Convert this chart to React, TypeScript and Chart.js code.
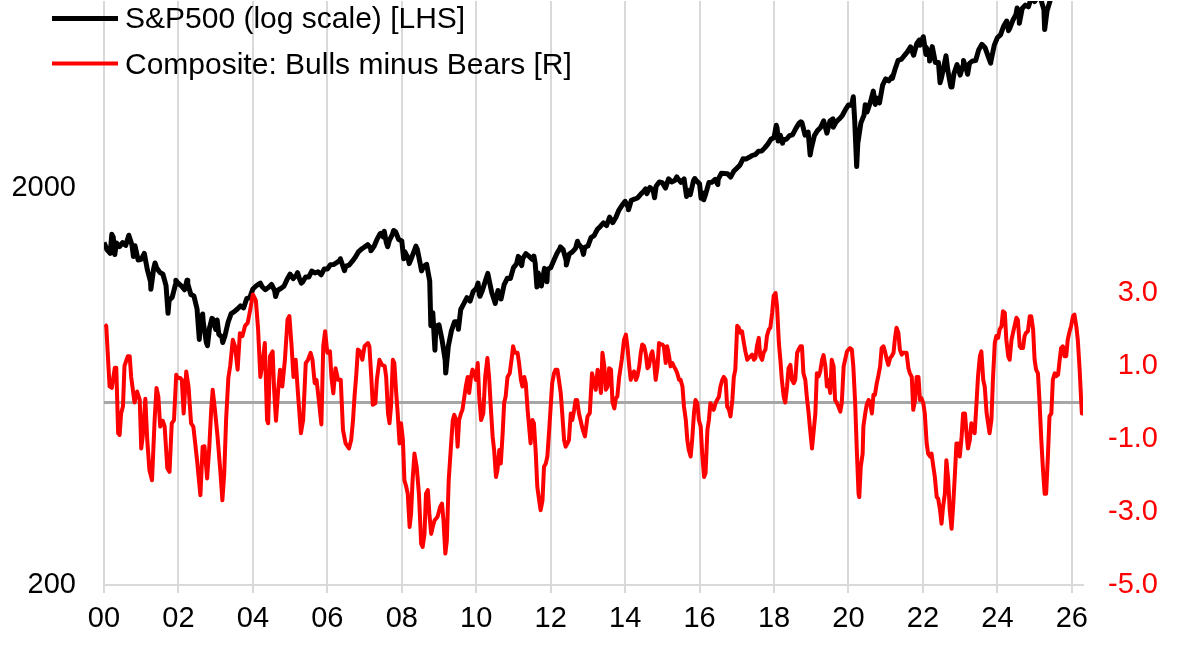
import React, { useEffect, useRef } from "react";
import { Chart, registerables } from "chart.js";

Chart.register(...registerables);

// ---------- axes ----------
const X_MIN = 2000;
const X_MAX = 2026.3;
const xTickYears = [2000, 2002, 2004, 2006, 2008, 2010, 2012, 2014, 2016, 2018, 2020, 2022, 2024, 2026];
const leftMin = 200;
const leftMax = 5900;
const leftTickValues = [200, 2000];
const rightMin = -5;
const rightMax = 11;
const rightTickValues = [-5, -3, -1, 1, 3];

// ---------- S&P 500 (month-end closes, Jan 2000 onwards) ----------
const spxStart: [number, number] = [2000.0, 1455];
const spxMonthEnd = [
  1394, 1366, 1499, 1452, 1421, 1455, 1431, 1518, 1437, 1429, 1315, 1320, // 2000
  1366, 1240, 1160, 1249, 1256, 1224, 1211, 1134, 1041, 1060, 1139, 1148, // 2001
  1130, 1107, 1147, 1077, 1067, 990, 912, 916, 815, 886, 936, 880, // 2002
  856, 841, 848, 917, 964, 975, 990, 1008, 996, 1051, 1058, 1112, // 2003
  1131, 1145, 1126, 1107, 1121, 1141, 1102, 1104, 1115, 1130, 1174, 1212, // 2004
  1181, 1204, 1181, 1157, 1192, 1191, 1234, 1220, 1229, 1207, 1249, 1248, // 2005
  1280, 1281, 1295, 1311, 1270, 1270, 1277, 1304, 1336, 1378, 1401, 1418, // 2006
  1438, 1407, 1421, 1482, 1531, 1503, 1455, 1474, 1527, 1549, 1481, 1468, // 2007
  1379, 1331, 1323, 1386, 1400, 1280, 1267, 1283, 1165, 969, 896, 903, // 2008
  826, 735, 798, 873, 919, 919, 987, 1021, 1057, 1036, 1096, 1115, // 2009
  1074, 1104, 1169, 1187, 1089, 1031, 1102, 1049, 1141, 1183, 1181, 1258, // 2010
  1286, 1327, 1326, 1364, 1345, 1321, 1292, 1219, 1131, 1253, 1247, 1258, // 2011
  1312, 1366, 1408, 1398, 1310, 1362, 1379, 1407, 1441, 1412, 1416, 1426, // 2012
  1498, 1515, 1569, 1598, 1631, 1606, 1686, 1633, 1682, 1757, 1806, 1848, // 2013
  1783, 1859, 1872, 1884, 1924, 1960, 1931, 2003, 1972, 2018, 2068, 2059, // 2014
  1995, 2105, 2068, 2086, 2107, 2063, 2104, 1972, 1920, 2079, 2080, 2044, // 2015
  1940, 1932, 2060, 2065, 2097, 2099, 2174, 2171, 2168, 2126, 2199, 2239, // 2016
  2279, 2364, 2363, 2384, 2412, 2423, 2470, 2472, 2519, 2575, 2648, 2674, // 2017
  2824, 2714, 2641, 2648, 2705, 2718, 2816, 2902, 2914, 2711, 2760, 2507, // 2018
  2704, 2784, 2834, 2946, 2752, 2942, 2980, 2926, 2977, 3038, 3141, 3231, // 2019
  3226, 2954, 2585, 2912, 3044, 3100, 3271, 3500, 3363, 3270, 3622, 3756, // 2020
  3714, 3811, 3973, 4181, 4204, 4298, 4395, 4523, 4308, 4605, 4567, 4766, // 2021
  4516, 4374, 4530, 4132, 4132, 3785, 4130, 3955, 3586, 3872, 4080, 3840, // 2022
  4077, 3970, 4109, 4169, 4180, 4450, 4589, 4508, 4288, 4194, 4568, 4770, // 2023
  4846, 5096, 5254, 5036, 5278, 5460, 5522, 5648, 5762, 5705, 6032, 5882, // 2024
  6041, 5955, 5612, 5569, 5912, 6205, 6339, 6460, 6688, 6840, 6849, 6845, // 2025
  6939, 6879, 6500, // 2026
];
// intra-month highs / lows (year fraction, level)
const spxSwings: [number, number][] = [
  [2000.21, 1527], [2000.29, 1357], [2000.79, 1342], [2001.26, 1110], [2001.37, 1293],
  [2001.72, 966], [2001.93, 1170], [2002.23, 1170], [2002.56, 830], [2002.65, 962],
  [2002.78, 800], [2002.9, 938], [2003.04, 929], [2003.19, 815], [2004.2, 1150],
  [2004.61, 1064], [2005.2, 1222], [2005.30, 1150], [2006.35, 1325], [2006.46, 1236],
  [2007.17, 1387], [2007.44, 1536], [2007.53, 1553], [2007.62, 1420], [2007.78, 1561],
  [2008.05, 1325], [2008.20, 1288], [2008.38, 1425], [2008.53, 1235], [2008.78, 899],
  [2008.89, 780], [2009.18, 683], [2009.52, 880], [2010.05, 1150], [2010.10, 1066],
  [2010.31, 1217], [2010.51, 1022], [2011.13, 1343], [2011.22, 1273], [2011.55, 1345],
  [2011.63, 1124], [2011.76, 1131], [2011.90, 1159], [2012.26, 1419], [2012.42, 1278],
  [2012.72, 1466], [2012.88, 1359], [2014.09, 1760], [2014.55, 1985], [2014.79, 1887],
  [2015.39, 2130], [2015.65, 1900], [2015.87, 2109], [2016.04, 1880], [2016.11, 1864],
  [2016.49, 2037], [2018.06, 2873], [2018.11, 2620], [2018.23, 2588], [2018.72, 2930],
  [2018.97, 2417], [2019.42, 2744], [2019.59, 2840], [2020.13, 3386], [2020.22, 2260],
  [2020.45, 3232], [2020.72, 3240], [2021.18, 3768], [2021.9, 4705], [2022.01, 4797],
  [2022.08, 4327], [2022.18, 4170], [2022.46, 3675], [2022.62, 4297], [2022.78, 3583],
  [2023.09, 4180], [2023.20, 3860], [2023.82, 4117], [2024.30, 4967], [2024.53, 5667],
  [2024.59, 5186], [2025.13, 6144], [2025.27, 5000],
];

// ---------- Composite: Bulls minus Bears (year fraction, z-score) ----------
const bullsBears2000s: [number, number][] = [
  [2000.02, 2.14], [2000.06, 2.1], [2000.15, 0.44], [2000.21, 0.4], [2000.29, 0.95], [2000.33, 0.95],
  [2000.38, -0.84], [2000.42, -0.89], [2000.46, -0.3], [2000.51, -0.1], [2000.55, 1.0], [2000.64, 1.27],
  [2000.69, 1.27], [2000.73, 0.7], [2000.82, 0.0], [2000.89, 0.3], [2000.96, 0.07], [2001.0, -1.26],
  [2001.04, -0.93], [2001.11, 0.1], [2001.16, -1.0], [2001.22, -1.85], [2001.29, -2.13], [2001.36, -0.48],
  [2001.41, 0.4], [2001.46, 0.16], [2001.51, -0.66], [2001.58, -0.5], [2001.63, -0.66], [2001.7, -1.8],
  [2001.76, -1.9], [2001.82, -0.57], [2001.88, -0.48], [2001.94, 0.76], [2001.98, 0.67], [2002.05, 0.67],
  [2002.09, 0.62], [2002.14, -0.3], [2002.21, 0.85], [2002.27, 0.44], [2002.34, -0.57], [2002.4, -0.66],
  [2002.43, -0.93], [2002.5, -1.58], [2002.59, -2.54], [2002.65, -1.21], [2002.7, -1.2], [2002.77, -2.08],
  [2002.83, -1.2], [2002.88, -0.2], [2002.92, 0.35], [2002.98, -0.2], [2003.05, -0.93], [2003.13, -1.94],
  [2003.18, -2.68], [2003.23, -1.94], [2003.28, -0.48], [2003.34, 0.67], [2003.39, 1.0], [2003.46, 1.72],
  [2003.52, 1.54], [2003.59, 0.9], [2003.65, 1.9], [2003.72, 1.82], [2003.79, 2.1], [2003.86, 2.18],
  [2003.93, 2.55], [2004.0, 2.96], [2004.08, 2.8], [2004.14, 2.0], [2004.2, 0.7], [2004.26, 1.07],
  [2004.32, 1.63], [2004.38, -0.48], [2004.41, -0.57], [2004.46, 1.27], [2004.53, 1.4], [2004.57, 0.35],
  [2004.62, -0.5], [2004.68, 0.35], [2004.73, 0.9], [2004.79, 0.44], [2004.86, 1.17], [2004.93, 2.27],
  [2004.98, 2.37], [2005.04, 1.54], [2005.09, 0.7], [2005.15, 1.17], [2005.21, 0.26], [2005.29, -0.84],
  [2005.35, -0.48], [2005.42, 1.08], [2005.48, 1.17], [2005.55, 1.36], [2005.6, 1.17], [2005.66, 0.53],
  [2005.71, 0.62], [2005.78, -0.02], [2005.84, -0.6], [2005.89, 1.54], [2005.94, 1.95], [2006.0, 1.36],
  [2006.07, 1.4], [2006.11, 0.7], [2006.16, 0.25], [2006.22, 0.94], [2006.29, 0.62], [2006.36, 0.62],
];
const bullsBears2006s: [number, number][] = [
  [2006.42, -0.75], [2006.49, -1.12], [2006.58, -1.26], [2006.64, -1.03], [2006.69, -0.48], [2006.73, 0.16],
  [2006.78, 0.8], [2006.82, 1.45], [2006.88, 1.4], [2006.94, 1.17], [2007.0, 1.54], [2007.09, 1.63],
  [2007.13, 1.54], [2007.18, 0.7], [2007.22, -0.06], [2007.29, -0.02], [2007.33, 0.62], [2007.4, 1.17],
  [2007.47, 1.03], [2007.54, 1.0], [2007.58, 0.7], [2007.63, -0.3], [2007.67, -0.57], [2007.71, -0.11],
  [2007.76, 1.17], [2007.8, 1.08], [2007.85, 0.26], [2007.89, -0.3], [2007.94, -1.12], [2007.98, -0.57],
  [2008.03, -1.03], [2008.07, -2.13], [2008.12, -2.31], [2008.16, -2.5], [2008.21, -3.41], [2008.25, -3.04],
  [2008.29, -2.13], [2008.34, -1.4], [2008.4, -1.76], [2008.46, -2.5], [2008.52, -3.87], [2008.56, -3.96],
  [2008.61, -3.6], [2008.65, -2.5], [2008.7, -2.4], [2008.74, -3.04], [2008.79, -3.6], [2008.83, -3.41],
  [2008.88, -3.23], [2008.96, -3.13], [2009.03, -2.86], [2009.08, -2.77], [2009.12, -3.23], [2009.17, -4.14],
  [2009.21, -3.78], [2009.26, -2.13], [2009.32, -1.21], [2009.37, -0.48], [2009.41, -0.34], [2009.46, -0.48],
  [2009.5, -1.21], [2009.54, -0.48], [2009.59, -0.3], [2009.63, -0.2], [2009.72, 0.44], [2009.77, 0.7],
  [2009.81, 0.26], [2009.86, 0.7], [2009.9, 0.9], [2009.95, 0.8], [2009.99, 0.62], [2010.04, 1.08],
  [2010.08, 0.16], [2010.13, -0.48], [2010.19, -0.3], [2010.24, 0.7], [2010.3, 1.22], [2010.35, 0.62],
  [2010.39, -0.11], [2010.44, -0.93], [2010.48, -1.3], [2010.53, -2.04], [2010.57, -1.85], [2010.62, -1.3],
  [2010.66, -1.67], [2010.71, -0.84], [2010.75, 0.0], [2010.79, 0.16], [2010.84, 0.7], [2010.9, 0.8],
  [2010.96, 1.27], [2010.99, 1.54], [2011.04, 1.36], [2011.11, 1.36], [2011.15, 1.08], [2011.2, 0.62],
  [2011.24, 0.44], [2011.29, 0.7], [2011.33, 0.53], [2011.38, -0.2], [2011.42, -0.66], [2011.46, -1.12],
  [2011.51, -0.48], [2011.55, -0.57], [2011.6, -1.4], [2011.64, -2.31], [2011.69, -2.68], [2011.73, -2.95],
  [2011.78, -2.68], [2011.82, -1.76], [2011.87, -1.67], [2011.91, -1.48], [2011.96, -0.75], [2012.0, -0.11],
  [2012.04, 0.53], [2012.09, 0.8], [2012.13, 0.9], [2012.18, 0.9], [2012.22, 0.62], [2012.27, 0.26],
  [2012.31, -0.3], [2012.36, -1.03], [2012.4, -1.21], [2012.45, -1.12], [2012.49, -1.03], [2012.54, -0.3],
  [2012.58, -0.48], [2012.63, -0.2], [2012.67, 0.07], [2012.71, 0.07], [2012.76, -0.3], [2012.85, -0.7],
  [2012.92, -0.93],
];
const bullsBears2013s: [number, number][] = [
  [2012.99, -0.38], [2013.05, -0.29], [2013.11, 0.8], [2013.17, 0.53], [2013.21, 0.35], [2013.26, 0.9],
  [2013.3, 0.72], [2013.35, 0.26], [2013.39, 1.36], [2013.44, 1.0], [2013.48, 0.35], [2013.53, 0.44],
  [2013.57, 0.94], [2013.62, 0.9], [2013.66, 0.0], [2013.71, -0.16], [2013.75, 0.12], [2013.79, 0.16],
  [2013.84, 0.7], [2013.91, 1.17], [2013.97, 1.72], [2014.02, 1.86], [2014.06, 1.54], [2014.11, 0.99],
  [2014.15, 0.62], [2014.2, 0.8], [2014.24, 0.85], [2014.29, 0.62], [2014.33, 0.72], [2014.38, 0.99],
  [2014.42, 1.36], [2014.46, 1.59], [2014.51, 1.54], [2014.55, 1.36], [2014.6, 0.94], [2014.64, 0.99],
  [2014.69, 1.3], [2014.73, 1.4], [2014.78, 1.08], [2014.82, 0.62], [2014.87, 0.99], [2014.91, 1.63],
  [2014.96, 1.59], [2015.0, 1.59], [2015.04, 1.54], [2015.09, 1.08], [2015.13, 1.54], [2015.18, 1.27],
  [2015.22, 0.99], [2015.27, 1.08], [2015.31, 0.99], [2015.36, 0.9], [2015.4, 0.8], [2015.45, 0.62],
  [2015.49, 0.62], [2015.54, 0.44], [2015.58, -0.11], [2015.63, -0.48], [2015.67, -1.03], [2015.71, -1.3],
  [2015.76, -1.48], [2015.8, -1.03], [2015.85, -0.29], [2015.89, 0.07], [2015.94, -0.02], [2015.98, -0.48],
  [2016.03, -0.66], [2016.07, -1.4], [2016.12, -2.04], [2016.16, -1.94], [2016.21, -0.75], [2016.25, -0.48],
  [2016.29, -0.02], [2016.34, -0.11], [2016.38, -0.2], [2016.43, -0.02], [2016.47, 0.07], [2016.52, 0.16],
  [2016.56, 0.44], [2016.61, 0.62], [2016.65, 0.7], [2016.7, 0.62], [2016.74, -0.11], [2016.79, -0.2],
  [2016.83, -0.38], [2016.88, 0.07], [2016.92, 0.7], [2016.96, 0.9], [2017.01, 2.1], [2017.05, 2.06],
  [2017.1, 1.91], [2017.14, 1.95], [2017.19, 1.63], [2017.23, 1.4], [2017.28, 1.17], [2017.32, 1.22],
  [2017.37, 1.27], [2017.41, 1.31], [2017.46, 1.17], [2017.5, 1.22], [2017.54, 1.54], [2017.59, 1.77],
  [2017.63, 1.27], [2017.68, 1.17], [2017.72, 1.36], [2017.77, 1.45], [2017.81, 1.82], [2017.86, 2.0],
  [2017.9, 2.05], [2017.95, 2.46], [2017.99, 2.92], [2018.04, 3.0], [2018.08, 2.64], [2018.13, 1.63],
  [2018.17, 1.17], [2018.21, 0.62], [2018.26, 0.16], [2018.3, 0.0], [2018.35, 0.44], [2018.39, 0.94],
  [2018.44, 1.03], [2018.48, 0.62], [2018.53, 0.53], [2018.57, 0.62], [2018.62, 1.36], [2018.66, 1.45],
  [2018.71, 1.54], [2018.75, 1.54], [2018.79, 0.8], [2018.84, 0.62], [2018.88, 0.16], [2018.93, -0.3],
  [2018.97, -0.75], [2019.02, -1.26], [2019.06, -0.84], [2019.11, -0.3], [2019.15, 0.8], [2019.2, 0.72],
  [2019.24, 0.85], [2019.29, 1.17], [2019.33, 1.3], [2019.38, 0.99], [2019.42, 0.44], [2019.46, 0.62],
];
const bullsBears2019s: [number, number][] = [
  [2019.51, 0.26], [2019.55, 1.17], [2019.6, 0.99], [2019.64, 0.07], [2019.69, -0.02], [2019.73, -0.11],
  [2019.78, -0.25], [2019.82, -0.02], [2019.87, 0.99], [2019.91, 1.17], [2019.96, 1.4], [2020.0, 1.45],
  [2020.04, 1.49], [2020.09, 1.45], [2020.13, 0.99], [2020.18, -0.02], [2020.22, -1.21], [2020.27, -2.5],
  [2020.29, -2.59], [2020.33, -1.76], [2020.38, -1.4], [2020.4, -0.66], [2020.45, -0.3], [2020.49, -0.06],
  [2020.54, 0.07], [2020.58, -0.02], [2020.63, -0.3], [2020.67, 0.21], [2020.71, 0.21], [2020.76, 0.53],
  [2020.8, 0.72], [2020.85, 0.99], [2020.89, 1.49], [2020.94, 1.54], [2020.98, 1.4], [2021.03, 1.17],
  [2021.07, 1.03], [2021.12, 1.22], [2021.16, 1.27], [2021.21, 1.36], [2021.25, 1.77], [2021.29, 2.05],
  [2021.34, 1.91], [2021.38, 1.45], [2021.43, 1.31], [2021.47, 1.36], [2021.52, 1.36], [2021.56, 1.36],
  [2021.61, 0.94], [2021.65, 0.8], [2021.7, 0.7], [2021.74, -0.2], [2021.79, 0.07], [2021.83, 0.7],
  [2021.88, 0.7], [2021.92, 0.07], [2021.96, 0.12], [2022.01, -0.02], [2022.05, -0.3], [2022.1, -1.12],
  [2022.14, -1.4], [2022.19, -1.48], [2022.23, -1.4], [2022.28, -1.76], [2022.32, -2.04], [2022.37, -2.59],
  [2022.41, -2.64], [2022.46, -2.95], [2022.5, -3.32], [2022.54, -2.86], [2022.59, -2.5], [2022.63, -1.58],
  [2022.68, -2.13], [2022.72, -2.95], [2022.77, -3.46], [2022.81, -2.86], [2022.86, -1.94], [2022.9, -1.12],
  [2022.95, -1.12], [2022.99, -1.48], [2023.04, -0.93], [2023.08, -0.3], [2023.13, -0.3], [2023.17, -0.84],
  [2023.21, -1.26], [2023.26, -1.03], [2023.3, -0.57], [2023.35, -0.75], [2023.39, -0.84], [2023.44, 0.0],
  [2023.48, 0.72], [2023.53, 1.27], [2023.57, 1.4], [2023.62, 0.62], [2023.66, 0.44], [2023.71, -0.29],
  [2023.75, -0.57], [2023.79, -0.84], [2023.84, -0.48], [2023.88, 0.62], [2023.93, 1.63], [2023.97, 1.82],
  [2024.02, 1.77], [2024.06, 2.0], [2024.11, 2.09], [2024.15, 2.5], [2024.2, 2.46], [2024.24, 1.72],
  [2024.29, 1.27], [2024.33, 1.17], [2024.38, 1.72], [2024.42, 1.91], [2024.46, 2.09], [2024.51, 2.32],
  [2024.55, 2.27], [2024.6, 1.54], [2024.64, 1.49], [2024.69, 1.49], [2024.73, 1.82], [2024.77, 1.91],
  [2024.82, 1.95], [2024.87, 2.36], [2024.91, 2.36], [2024.96, 2.0], [2025.0, 1.17], [2025.04, 0.9],
  [2025.09, 0.8], [2025.13, 0.07], [2025.18, -1.03], [2025.22, -1.76], [2025.27, -2.5], [2025.31, -2.5],
  [2025.36, -1.4], [2025.4, -0.38], [2025.45, -0.3], [2025.49, 0.62], [2025.54, 0.8], [2025.58, 0.72],
  [2025.63, 0.76], [2025.67, 1.13], [2025.71, 1.49], [2025.76, 1.54], [2025.8, 1.27], [2025.85, 1.27],
  [2025.89, 1.72], [2025.94, 1.95], [2025.98, 2.09], [2026.03, 2.36], [2026.07, 2.41], [2026.12, 2.09],
  [2026.16, 1.72], [2026.21, 0.9], [2026.25, 0.07], [2026.27, -0.3],
];

const labelSpx = "S&P500 (log scale) [LHS]";
const labelComposite = "Composite: Bulls minus Bears [R]";

const FONT_FAMILY = '"Liberation Sans", Arial, Helvetica, sans-serif';
const TICK_FONT_SIZE = 29;
const LEGEND_FONT_SIZE = 30;

function buildSpxPoints() {
  const pts: { x: number; y: number }[] = [{ x: spxStart[0], y: spxStart[1] }];
  spxMonthEnd.forEach((v, i) => pts.push({ x: 2000 + (i + 1) / 12, y: v }));
  spxSwings.forEach(([x, y]) => pts.push({ x, y }));
  pts.sort((a, b) => a.x - b.x);
  return pts;
}

function buildSentimentPoints() {
  return [...bullsBears2000s, ...bullsBears2006s, ...bullsBears2013s, ...bullsBears2019s]
    .map(([x, y]) => ({ x, y }))
    .sort((a, b) => a.x - b.x);
}

const legendPlugin = {
  id: "stackedLegend",
  afterDraw(chart: any) {
    const ctx = chart.ctx as CanvasRenderingContext2D;
    const items = [
      { idx: 1, lineY: 18.5, baseY: 27.5 },
      { idx: 0, lineY: 63.5, baseY: 74 },
    ];
    ctx.save();
    items.forEach((it) => {
      const ds = chart.data.datasets[it.idx];
      ctx.strokeStyle = ds.borderColor;
      ctx.lineWidth = ds.borderWidth;
      ctx.lineCap = "butt";
      ctx.beginPath();
      ctx.moveTo(52, it.lineY);
      ctx.lineTo(118, it.lineY);
      ctx.stroke();
      ctx.fillStyle = "#000000";
      ctx.font = `${LEGEND_FONT_SIZE}px ${FONT_FAMILY}`;
      ctx.textAlign = "left";
      ctx.textBaseline = "alphabetic";
      ctx.fillText(ds.label, 125, it.baseY);
    });
    ctx.restore();
  },
};

export default function App() {
  const canvasRef = useRef<HTMLCanvasElement | null>(null);

  useEffect(() => {
    document.body.style.margin = "0";
    const canvas = canvasRef.current;
    if (!canvas) return;

    const chart = new Chart(canvas, {
      type: "line",
      data: {
        datasets: [
          {
            label: labelComposite,
            data: buildSentimentPoints(),
            yAxisID: "yR",
            borderColor: "#ff0000",
            borderWidth: 4,
            pointRadius: 0,
            tension: 0,
            borderJoinStyle: "round",
            order: 0,
          },
          {
            label: labelSpx,
            data: buildSpxPoints(),
            yAxisID: "yL",
            borderColor: "#000000",
            borderWidth: 5,
            pointRadius: 0,
            tension: 0,
            borderJoinStyle: "round",
            order: 1,
          },
          {
            label: "zero",
            data: [
              { x: X_MIN, y: 0 },
              { x: X_MAX, y: 0 },
            ],
            yAxisID: "yR",
            borderColor: "#a6a6a6",
            borderWidth: 3,
            pointRadius: 0,
            order: 2,
          },
        ],
      },
      options: {
        responsive: false,
        animation: false,
        events: [],
        layout: { padding: { top: 1, left: 0, right: 32, bottom: 0 } },
        plugins: {
          legend: { display: false },
          tooltip: { enabled: false },
        },
        scales: {
          x: {
            type: "linear",
            position: "bottom",
            min: X_MIN,
            max: X_MAX,
            afterBuildTicks: (scale: any) => {
              scale.ticks = xTickYears.map((v) => ({ value: v }));
            },
            afterFit: (scale: any) => {
              scale.height = 65;
              scale.paddingLeft = 0;
              scale.paddingRight = 0;
            },
            grid: {
              color: "#d9d9d9",
              lineWidth: 2,
              drawTicks: true,
              tickLength: 8,
              tickColor: "#d9d9d9",
              tickWidth: 2,
            },
            border: { display: true, color: "#d9d9d9", width: 2 },
            ticks: {
              color: "#000000",
              padding: 9,
              maxRotation: 0,
              autoSkip: false,
              font: { family: FONT_FAMILY, size: TICK_FONT_SIZE },
              callback: (v: any) => String(Math.round(Number(v)) - 2000).padStart(2, "0"),
            },
          },
          yL: {
            type: "logarithmic",
            position: "left",
            min: leftMin,
            max: leftMax,
            afterBuildTicks: (scale: any) => {
              scale.ticks = leftTickValues.map((v) => ({ value: v }));
            },
            afterFit: (scale: any) => {
              scale.width = 104;
              scale.paddingTop = 0;
              scale.paddingBottom = 0;
            },
            grid: { display: false, drawTicks: false },
            border: { display: false },
            ticks: {
              color: "#000000",
              padding: 28,
              font: { family: FONT_FAMILY, size: TICK_FONT_SIZE },
              callback: (v: any) => String(v),
            },
          },
          yR: {
            type: "linear",
            position: "right",
            min: rightMin,
            max: rightMax,
            afterBuildTicks: (scale: any) => {
              scale.ticks = rightTickValues.map((v) => ({ value: v }));
            },
            afterFit: (scale: any) => {
              scale.width = 75;
              scale.paddingTop = 0;
              scale.paddingBottom = 0;
            },
            grid: { display: false, drawTicks: false },
            border: { display: false },
            ticks: {
              color: "#ff0000",
              padding: 20,
              crossAlign: "far",
              font: { family: FONT_FAMILY, size: TICK_FONT_SIZE },
              callback: (v: any) => Number(v).toFixed(1),
            },
          },
        },
      },
      plugins: [legendPlugin],
    } as any);

    return () => chart.destroy();
  }, []);

  return (
    <canvas
      ref={canvasRef}
      width={1190}
      height={650}
      style={{ display: "block", width: "1190px", height: "650px" }}
    />
  );
}
